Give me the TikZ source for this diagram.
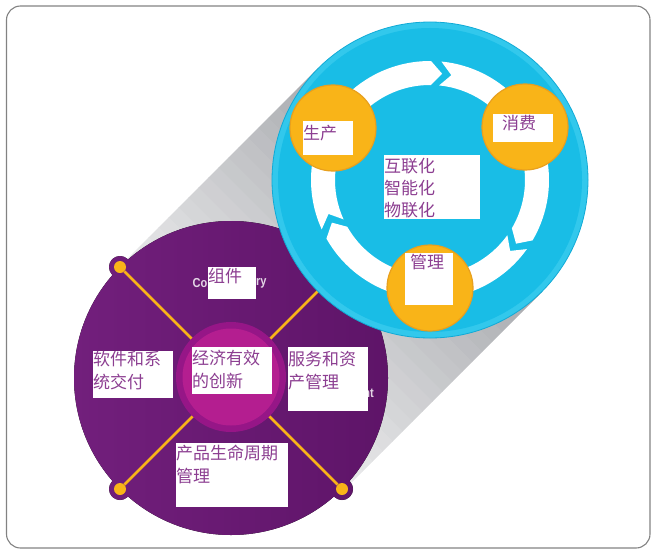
\documentclass[tikz,border=0pt]{standalone}
\usepackage{fontspec}
\setmainfont{Liberation Sans}
\newfontfamily\cjk{Noto Sans CJK SC}
\definecolor{frameC}{RGB}{130,130,130}
\definecolor{shadowD}{RGB}{168,170,174}
\definecolor{shadowL}{RGB}{238,238,239}
\definecolor{purpL}{RGB}{114,31,124}
\definecolor{purpD}{RGB}{94,20,104}
\definecolor{magD}{RGB}{150,22,135}
\definecolor{magL}{RGB}{180,30,144}
\definecolor{cyanA}{RGB}{25,189,230}
\definecolor{cyanR}{RGB}{50,200,236}
\definecolor{cyanB}{RGB}{16,170,214}
\definecolor{oran}{RGB}{249,180,24}
\definecolor{oranB}{RGB}{232,160,30}
\definecolor{txt}{RGB}{140,62,145}
\definecolor{remC}{RGB}{228,214,230}
\newcommand\lbl[5]{\parbox[t][#2][t]{#1}{\raggedright\leftskip=#3\relax\vspace*{#4}#5}}
\tikzset{
  box/.style={anchor=north west, inner sep=0pt, fill=white, text=txt,
    font=\cjk\fontsize{17}{23}\selectfont},
  orb/.style={circle, inner sep=0pt, minimum size=86pt, fill=oran, draw=oranB, line width=1.2pt},
  dotn/.style={circle, inner sep=0pt, minimum size=12pt, fill=oran},
  oline/.style={draw=oran, line width=2.6pt},
  rem/.style={inner sep=0pt, text=remC, xscale=0.85, font=\bfseries\fontsize{13}{15}\selectfont}
}
\begin{document}
\begin{tikzpicture}[x=1pt,y=1pt]
\useasboundingbox (0,0) rectangle (652,550);
% frame
\draw[frameC, line width=1.1pt, rounded corners=14pt] (6.5,2) rectangle (650,544);
% long shadow, in strips from dark (at the blue disc) to light (at the purple disc)
\foreach \i in {0,...,19}{
  \pgfmathsetmacro\a{9.95*\i}
  \pgfmathsetmacro\b{9.95*(\i+1)+0.4}
  \pgfmathtruncatemacro\p{100-5*\i}
  \fill[shadowD!\p!shadowL] (318-\a,482-\a) -- (542-\a,258-\a) -- (542-\b,258-\b) -- (318-\b,482-\b) -- cycle;
}
% purple disc with bumps
\fill[left color=purpL, right color=purpD]
  (231,172) circle[radius=157]
  (120,283) circle[radius=11] (342,283) circle[radius=11]
  (120,61) circle[radius=11] (342,61) circle[radius=11];
% dots and spokes
\node[dotn] (tl) at (120,283) {};
\node[dotn] (tr) at (342,283) {};
\node[dotn] (bl) at (120,61) {};
\node[dotn] (br) at (342,61) {};
\draw[oline] (tl) -- (br);
\draw[oline] (tr) -- (bl);
% core
\node[circle, inner sep=0pt, minimum size=110pt, fill=magD] (core) at (231,173) {};
\node[circle, inner sep=0pt, minimum size=97pt, fill=magL] (corein) at (231,173) {};
% blue hub
\node[circle, inner sep=0pt, minimum size=316pt, fill=cyanR, draw=cyanB, line width=0.8pt] (hub) at (430,370) {};
\fill[cyanA] (hub.center) circle[radius=152];
% ring arrows
\begin{scope}[shift={(430,370)}]
\foreach \g in {207,87,-33}{
  \pgfmathsetmacro\T{\g-2.5}
  \pgfmathsetmacro\H{\g-120+2.5}
  \fill[white] (\T:119) arc[start angle=\T, end angle=\H, radius=119]
    -- (\H-6:107) -- (\H:95) arc[start angle=\H, end angle=\T, radius=95]
    -- (\T-6:107) -- cycle;
}
\end{scope}
% orange orbs
\node[orb] (prod) at (333,422) {};
\node[orb] (cons) at (525,423) {};
\node[orb] (mgmt) at (430,262) {};
% remnant latin text
\node[rem, anchor=east] (co) at (207.5,267) {Co};
\node[rem, anchor=west] (ry) at (256,267) {ry};
\node[rem, anchor=east] (nt) at (374,157) {nt};
% labels
\node[box] (l1) at (303,429) {\lbl{50pt}{34pt}{0pt}{4pt}{生产}};
\node[box] (l2) at (493,436) {\lbl{60pt}{28pt}{9pt}{1pt}{消费}};
\node[box, font=\cjk\fontsize{17}{22}\selectfont] (l3) at (384,395) {\lbl{96pt}{64pt}{0pt}{3pt}{互联化\\智能化\\物联化}};
\node[box] (l4) at (405,297) {\lbl{48pt}{52pt}{5pt}{1pt}{管理}};
\node[box] (l5) at (208,283) {\lbl{48pt}{32pt}{0pt}{1pt}{组件}};
\node[box] (l6) at (93,199) {\lbl{80pt}{47pt}{0pt}{0pt}{软件和系\\统交付}};
\node[box] (l7) at (192,203) {\lbl{80pt}{47pt}{0pt}{3pt}{经济有效\\的创新}};
\node[box] (l8) at (288,203) {\lbl{80pt}{64pt}{0pt}{4pt}{服务和资\\产管理}};
\node[box] (l9) at (176,107) {\lbl{112pt}{64pt}{0pt}{2pt}{产品生命周期\\管理}};
\end{tikzpicture}
\end{document}
